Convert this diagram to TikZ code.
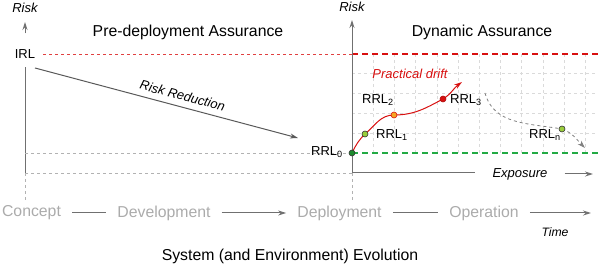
\documentclass[tikz,border=0pt]{standalone}
\usepackage{fontspec}
\setmainfont{Liberation Sans}
\usetikzlibrary{arrows.meta}
\definecolor{axisgray}{HTML}{707070}
\definecolor{phasegray}{HTML}{ABABAB}
\definecolor{gridgray}{HTML}{DADADA}
\definecolor{driftred}{HTML}{D81010}
\definecolor{safegreen}{HTML}{22AA44}
\definecolor{dotgreen}{HTML}{1E8A2E}
\definecolor{dotlime}{HTML}{9ACD3C}
\definecolor{dotorange}{HTML}{F5A623}
\newcommand{\bigfont}{\fontsize{15.8}{18}\selectfont}
\newcommand{\lblfont}{\fontsize{13}{15}\selectfont}

\begin{document}
\begin{tikzpicture}[x=1pt,y=1pt,>={Stealth[length=8pt,width=5pt]},
    lbl/.style={font=\lblfont,inner sep=2pt},
    ilbl/.style={font=\lblfont\itshape,inner sep=2pt},
    ttl/.style={font=\bigfont},
    phase/.style={font=\bigfont,text=phasegray,inner xsep=11pt},
    axis/.style={draw=axisgray,line width=1pt},
    guide/.style={draw=black!30,dashed,line width=.6pt},
    gridline/.style={draw=gridgray,dashed,line width=.5pt},
    limit/.style={draw=driftred,line width=1.1pt,dash pattern=on 6pt off 4pt},
    safe/.style={draw=safegreen,line width=1.1pt,dash pattern=on 6pt off 4pt},
    dot/.style={circle,draw=black!80,inner sep=0pt,minimum size=6pt,line width=.6pt}]
  \useasboundingbox (0,0) rectangle (598,265);
  \foreach \i in {1,...,11}
    \draw[gridline] ({352+21.2*\i},112) -- ({352+21.2*\i},211);
  \foreach \y in {132,152,172,192}
    \draw[gridline] (352,\y) -- (598,\y);
  \node[ilbl] (risk1) at (25,257) {Risk};
  \node[lbl,inner sep=8pt] (irl) at (25,211) {IRL};
  \coordinate (o1) at (25,92);
  \coordinate (top1) at (25,243);
  \coordinate (b1) at (25,65);
  \draw[axis] (o1) -- (irl);
  \draw[axis,->,shorten <=8pt] (irl) -- (top1);
  \draw[guide] (o1) -- (b1);
  \node[ttl] (pre) at (188,233) {Pre-deployment Assurance};
  \node[ttl] (dyn) at (482,233) {Dynamic Assurance};
  \node[ilbl] (risk2) at (352,258) {Risk};
  \coordinate (o2) at (352,92);
  \coordinate (top2) at (352,245);
  \coordinate (b2) at (352,65);
  \coordinate (d0) at (352,211);
  \coordinate (d1) at (598,211);
  \coordinate (s0) at (25,112);
  \coordinate (s1) at (598,112);
  \draw[draw=driftred!80,dashed,line width=.6pt] (irl.east) -- (d0);
  \draw[limit] (d0) -- (d1);
  \draw[guide] (s0) -- (352,112);
  \draw[safe] (352,112) -- (s1);
  \draw[guide] (o1) -- (o2);
  \draw[guide] (o2) -- (b2);
  \draw[axis,->] (o2) -- (top2);
  \node[ilbl,inner xsep=17pt] (expo) at (520,91) {Exposure};
  \coordinate (eend) at (593,91);
  \draw[axis] (o2) -- (o2 -| expo.west);
  \draw[axis,->] (expo.east) -- (eend);
  \coordinate (rr0) at (35,197);
  \coordinate (rr1) at (298,127);
  \draw[axis,draw=black!65,->] (rr0) -- node[ilbl,sloped,above=4pt,pos=.55] (rrtext) {Risk Reduction} (rr1);
  \node[ilbl,text=driftred] (drift) at (410,191) {Practical drift};
  \coordinate (tip) at (462,183);
  \draw[draw=driftred,line width=1pt,->] (352,112) to[out=65,in=225] (365,131)
    to[out=40,in=180] (394,150) to[out=0,in=208] (443,166) to[out=32,in=216] (tip);
  \coordinate (g0) at (485,172);
  \coordinate (g1) at (585,117);
  \node[dot,fill=dotgreen] (r0) at (352,112) {};
  \node[dot,fill=dotlime] (r1) at (365,131) {};
  \node[dot,draw=driftred,fill=dotorange] (r2) at (394,150) {};
  \node[dot,draw=driftred!80!black,fill=driftred] (r3) at (443,166) {};
  \draw[draw=black!50,dashed,line width=.8pt] (g0) to[out=-75,in=170] (562,136);
  \draw[draw=black!50,dashed,line width=.8pt,->] (562,136) to[out=-20,in=135] (g1);
  \node[dot,fill=dotlime] (rn) at (562,136) {};
  \node[lbl] (l0) at (327,113) {RRL\textsubscript{0}};
  \node[lbl] (l1) at (392,130) {RRL\textsubscript{1}};
  \node[lbl] (l2) at (378,165) {RRL\textsubscript{2}};
  \node[lbl] (l3) at (466,165) {RRL\textsubscript{3}};
  \node[lbl] (ln) at (545,130) {RRL\textsubscript{n}};
  \node[phase] (concept) at (31.5,52) {Concept};
  \node[phase] (devel) at (164,52) {Development};
  \node[phase] (deploy) at (339.5,52) {Deployment};
  \node[phase] (oper) at (484,52) {Operation};
  \coordinate (tend) at (591,52);
  \draw[axis] (concept) -- (devel);
  \draw[axis,->] (devel) -- (deploy);
  \draw[axis] (deploy) -- (oper);
  \draw[axis,->] (oper) -- (tend);
  \node[ilbl,font=\fontsize{12.2}{14}\selectfont\itshape] (time) at (555,33) {Time};
  \node[ttl] (evol) at (290,9) {System (and Environment) Evolution};
\end{tikzpicture}
\end{document}
